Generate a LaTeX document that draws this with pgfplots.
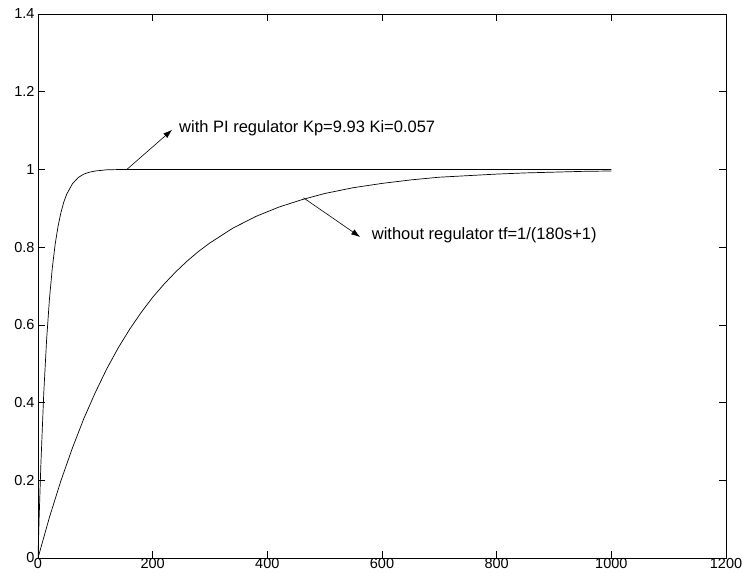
\documentclass[border=0pt]{standalone}
\usepackage{fontspec}
\setmainfont{Liberation Sans}
\usepackage{pgfplots}
\pgfplotsset{compat=1.18}
\usetikzlibrary{arrows.meta}
\begin{document}
\begin{tikzpicture}
\begin{axis}[
  width=688bp, height=544bp, scale only axis,
  xmin=0, xmax=1200, ymin=0, ymax=1.4,
  xtick={0,200,400,600,800,1000,1200},
  ytick={0,0.2,0.4,0.6,0.8,1,1.2,1.4},
  tick align=inside,
  major tick length=7bp,
  tick style={black, line width=0.6bp},
  axis line style={black, line width=0.8bp},
  tick label style={font=\fontsize{14.5bp}{16bp}\selectfont},
  xticklabel style={yshift=3bp},
  /pgf/number format/.cd, 1000 sep={}, assume math mode=true,
]
\coordinate (sw) at (rel axis cs:0,0);
\coordinate (ne) at (rel axis cs:1,1);
% with PI regulator
\addplot[black, line width=0.7bp] coordinates {
(0,0) (2,0.104) (5,0.240) (10,0.423) (15,0.561) (20,0.667) (25,0.747)
(30,0.808) (35,0.854) (40,0.889) (45,0.916) (50,0.936) (60,0.963)
(70,0.979) (80,0.988) (90,0.993) (100,0.996) (120,0.999) (150,1.0)
(300,1.0) (600,1.0) (1000,1.0)
};
% without regulator
\addplot[black, line width=0.7bp] coordinates {
(0,0) (20,0.105) (40,0.199) (60,0.283) (80,0.359) (100,0.426) (120,0.487)
(140,0.541) (160,0.589) (180,0.632) (200,0.671) (220,0.705) (240,0.736)
(260,0.764) (280,0.789) (300,0.811) (340,0.849) (380,0.879) (420,0.903)
(460,0.922) (500,0.938) (550,0.953) (600,0.964) (650,0.973) (700,0.980)
(750,0.984) (800,0.988) (850,0.991) (900,0.993) (950,0.995) (1000,0.996)
};
\draw[black, line width=0.6bp, -{Latex[length=9bp,width=6bp]}] (axis cs:155,1.0) -- (axis cs:234,1.102);
\draw[black, line width=0.6bp, -{Latex[length=9bp,width=6bp]}] (axis cs:463,0.927) -- (axis cs:562,0.826);
\node[anchor=base west, inner sep=0pt, font=\fontsize{16.5bp}{18bp}\selectfont] at (axis cs:246,1.096) {with PI regulator Kp=9.93 Ki=0.057};
\node[anchor=base west, inner sep=0pt, font=\fontsize{16.5bp}{18bp}\selectfont] at (axis cs:582,0.820) {without regulator tf=1/(180s+1)};
\end{axis}
\pgfresetboundingbox
\path[use as bounding box] ([shift={(-38bp,-25bp)}]sw) rectangle ([shift={(19bp,14bp)}]ne);
\end{tikzpicture}
\end{document}
